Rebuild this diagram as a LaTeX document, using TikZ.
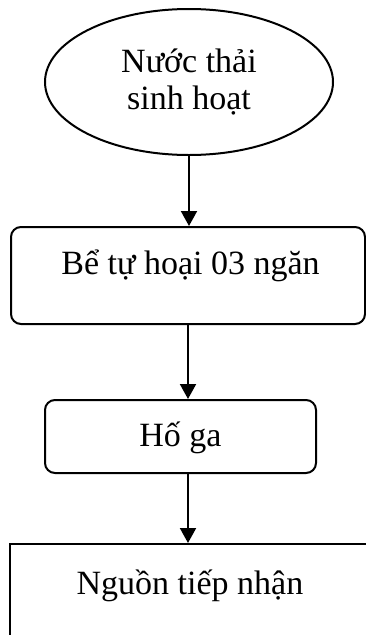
\documentclass[tikz,border=0pt]{standalone}
\usepackage{fontspec}
\setmainfont{Liberation Serif}
\usetikzlibrary{shapes.geometric,arrows.meta}
\begin{document}
\begin{tikzpicture}[x=1pt,y=1pt,
  every node/.style={font=\fontsize{34}{37}\selectfont},
  line/.style={line width=2pt},
  arr/.style={line, -{Triangle[width=16pt,length=15pt]}},
  startshape/.style={draw, ellipse, line width=2pt, minimum width=288pt, minimum height=146pt, inner sep=0pt, align=center},
  roundbox/.style={draw, rectangle, rounded corners=10pt, line width=2pt, inner xsep=0pt, inner ysep=0pt},
  plainbox/.style={draw, rectangle, line width=2pt, inner xsep=0pt, inner ysep=0pt}]
\useasboundingbox (0,0) rectangle (366,-635);
\clip (0,0) rectangle (366,-635);
\node[startshape] (n1) at (189,-82) {Nước thải\\sinh hoạt};
\node[roundbox, minimum width=354pt, text height=47pt, text depth=50pt, anchor=north] (n2) at (188,-226) {\hspace*{5pt}Bể tự hoại 03 ngăn};
\node[roundbox, minimum width=271pt, text height=46pt, text depth=27pt, anchor=north] (n3) at (180.5,-399) {Hố ga};
\node[plainbox, minimum width=360pt, text height=50pt, text depth=100pt, anchor=north] (n4) at (190,-543) {Nguồn tiếp nhận};
\draw[arr] (n1.south) -- (n1.south |- n2.north);
\draw[arr] (n2.south) -- (n2.south |- n3.north);
\draw[arr] ([xshift=7.5pt]n3.south) -- ([xshift=7.5pt]n3.south |- n4.north);
\end{tikzpicture}
\end{document}
